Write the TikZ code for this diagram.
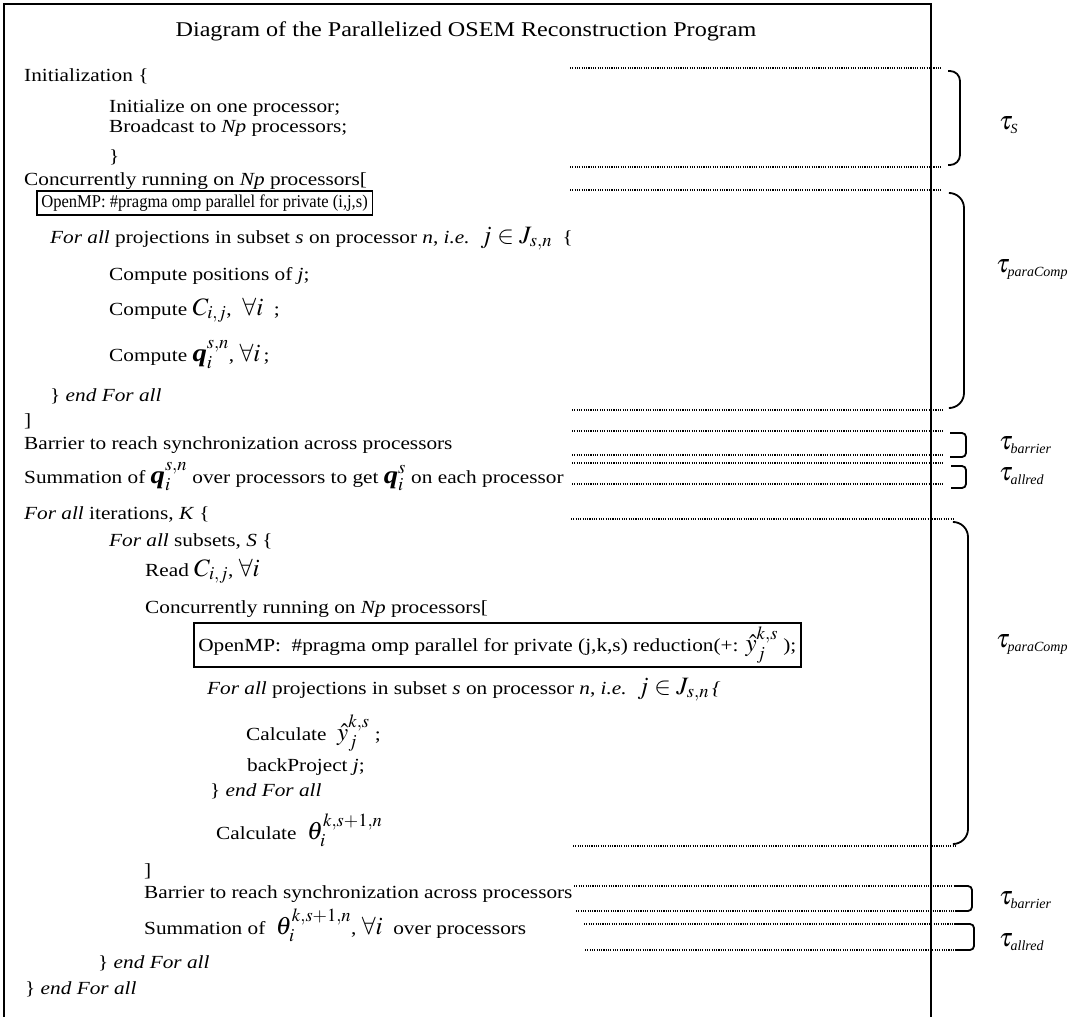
\documentclass[tikz,border=0pt]{standalone}
\usepackage{mathptmx}
\usepackage{fontspec}
\setmainfont{Liberation Serif}[FakeStretch=1.15]
\newfontfamily\boxfont{Liberation Serif}[FakeStretch=0.92]
\newfontfamily\subfont{Liberation Serif}
\newcommand{\mth}[1]{{\fontsize{25}{27}\selectfont$#1$}}
\newcommand{\tsub}[1]{\mbox{\subfont\itshape\fontsize{14}{16}\selectfont #1}}
\begin{document}
\begin{tikzpicture}[x=1pt,y=-1pt,
  txt/.style={anchor=base west, inner sep=0pt, font=\fontsize{18.5}{22}\selectfont},
  codebox/.style={draw, line width=1.6pt, anchor=west, inner xsep=4.5pt, inner ysep=4pt},
  dotline/.style={line width=1.2pt, dash pattern=on 1.1pt off 1.2pt},
  brk/.style={line width=1.8pt},
  framel/.style={line width=2pt},
  taulbl/.style={anchor=west, inner sep=0pt, font=\fontsize{26}{28}\selectfont}]
\useasboundingbox (0,0) rectangle (1080,1017);
\fill[white] (0,0) rectangle (1080,1017);
% frame
\coordinate (fbl) at (4,1020);
\coordinate (ftl) at (4,4);
\coordinate (ftr) at (931,4);
\coordinate (fbr) at (931,1020);
\draw[framel] (fbl) -- (ftl) -- (ftr) -- (fbr);
% title
\node[inner sep=0pt, font=\fontsize{21}{24}\selectfont] (title) at (466,31) {Diagram of the Parallelized OSEM Reconstruction Program};
% first part
\node[txt] (init) at (24,81) {Initialization \{};
\node[txt] (initone) at (109,112) {Initialize on one processor;};
\node[txt] (bcast) at (109,132) {Broadcast to \textit{Np} processors;};
\node[txt] (initclose) at (109,162) {\}};
\node[txt] (conc1) at (24,185) {Concurrently running on \textit{Np} processors[};
\node[codebox, font=\boxfont\fontsize{18}{21}\selectfont] (omp1) at (36,203) {OpenMP: \#pragma omp parallel for private (i,j,s)};
\node[txt] (fa1) at (50,243) {\textit{For all} projections in subset \textit{s} on processor \textit{n}, \textit{i.e.}\ \ \mth{j\in J_{s,n}}\ \ \{};
\node[txt] (cpos) at (109,280) {Compute positions of \textit{j};};
\node[txt] (cc) at (109,315) {Compute \mth{C_{i,j}},\ \ \mth{\forall i}\ \ ;};
\node[txt] (cq) at (109,361) {Compute \mth{\textbf{\textit{q}}_i^{s,n}}, \mth{\forall i}\,;};
\node[txt] (endfa1) at (50,401) {\} \textit{end For all}};
\node[txt] (rb1) at (24,426) {]};
\node[txt] (bar1) at (24,449) {Barrier to reach synchronization across processors};
\node[txt] (sum1) at (24,483) {Summation of \mth{\textbf{\textit{q}}_i^{s,n}} over processors to get \mth{\textbf{\textit{q}}_i^{s}} on each processor};
% second part
\node[txt] (faK) at (24,519) {\textit{For all} iterations, \textit{K} \{};
\node[txt] (faS) at (109,546) {\textit{For all} subsets, \textit{S} \{};
\node[txt] (readC) at (145,576) {Read \mth{C_{i,j}}, \mth{\forall i}};
\node[txt] (conc2) at (145,613) {Concurrently running on \textit{Np} processors[};
\node[codebox, font=\fontsize{18.5}{22}\selectfont] (omp2) at (193,645) {OpenMP:\ \ \#pragma omp parallel for private (j,k,s) reduction(+: \mth{\hat{y}_j^{k,s}}\ );};
\node[txt] (fa2) at (207,694) {\textit{For all} projections in subset \textit{s} on processor \textit{n}, \textit{i.e.}\ \ \mth{j\in J_{s,n}}\,\textit{\{}};
\node[txt] (calcy) at (246,740) {Calculate\ \ \mth{\hat{y}_j^{k,s}}\ ;};
\node[txt] (bp) at (247,771) {backProject \textit{j};};
\node[txt] (endfa2) at (210,796) {\} \textit{end For all}};
\node[txt] (calct) at (216,839) {Calculate\ \ \mth{\theta_i^{k,s+1,n}}};
\node[txt] (rb2) at (144,876) {]};
\node[txt] (bar2) at (144,898) {Barrier to reach synchronization across processors};
\node[txt] (sum2) at (144,934) {Summation of\ \ \mth{\theta_i^{k,s+1,n}}, \mth{\forall i}\ \ over processors};
\node[txt] (endS) at (98,968) {\} \textit{end For all}};
\node[txt] (endK) at (25,994) {\} \textit{end For all}};
% dotted lines
\foreach \n/\xa/\xb/\yy in {1/570/941/68, 2/570/941/167, 3/570/941/190, 4/572/943/410, 5/572/943/431, 6/572/943/455, 7/572/943/463, 8/572/943/484, 9/571/953/519, 10/573/955/846, 11/574/955/886, 12/576/955/911, 13/584/955/924, 14/585/955/950}{
  \coordinate (d\n a) at (\xa,\yy);
  \coordinate (d\n b) at (\xb,\yy);
  \draw[dotline] (d\n a) -- (d\n b);
}
% brackets
\foreach \n/\xa/\xv/\ya/\yb/\r in {S/948/960/71/165/10, pa/951/964/193/408/15, ba/950/966/433/457/4, aa/951/966/466/488/4, pb/955/968/522/844/15, bb/955/972/886/911/4, ab/955/974/924/950/4}{
  \coordinate (b\n1) at (\xa,\ya);
  \coordinate (b\n2) at (\xv,\ya);
  \coordinate (b\n3) at (\xv,\yb);
  \coordinate (b\n4) at (\xa,\yb);
  \draw[brk, rounded corners=\r pt] (b\n1) -- (b\n2) -- (b\n3) -- (b\n4);
}
% tau labels
\node[taulbl] (tS) at (999,125) {$\tau_{\tsub{S}}$};
\node[taulbl] (tpc1) at (996,270) {$\tau_{\tsub{paraComp}}$};
\node[taulbl] (tb1) at (999,445) {$\tau_{\tsub{barrier}}$};
\node[taulbl] (ta1) at (999,476) {$\tau_{\tsub{allred}}$};
\node[taulbl] (tpc2) at (996,645) {$\tau_{\tsub{paraComp}}$};
\node[taulbl] (tb2) at (999,900) {$\tau_{\tsub{barrier}}$};
\node[taulbl] (ta2) at (999,942) {$\tau_{\tsub{allred}}$};
\end{tikzpicture}
\end{document}
